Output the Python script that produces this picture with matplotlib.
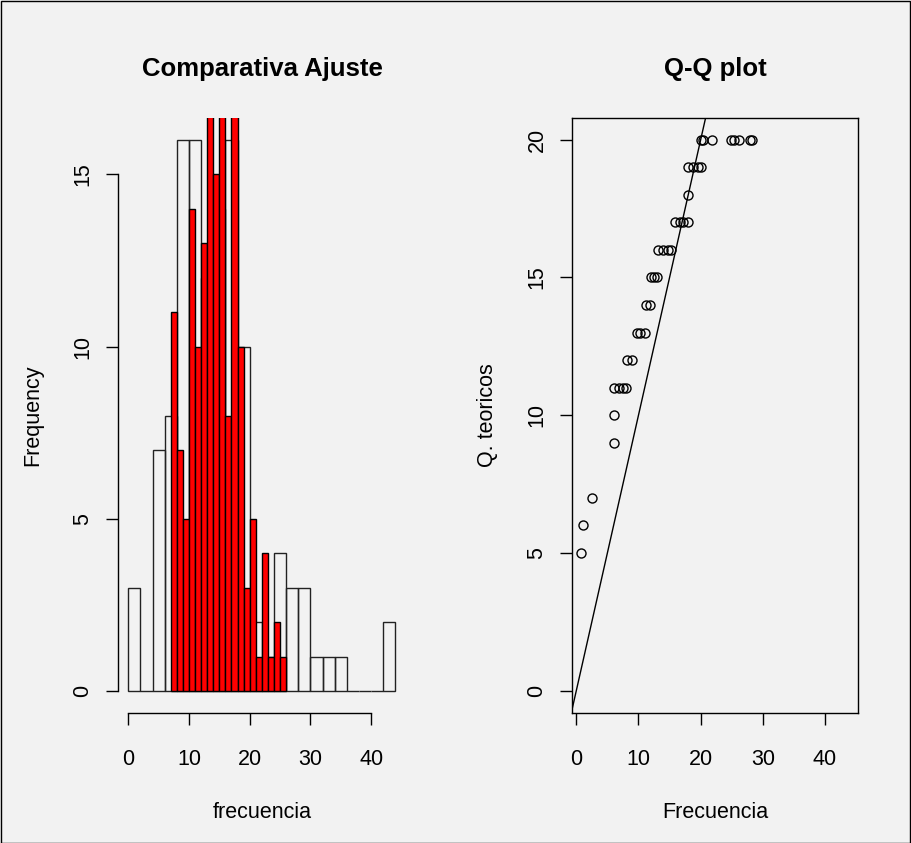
import numpy as np
import matplotlib
matplotlib.use("Agg")
import matplotlib.pyplot as plt
from matplotlib.patches import Rectangle

plt.rcParams['font.family'] = ['Liberation Sans', 'DejaVu Sans']

# ---- data ----
white_edges = list(range(0, 46, 2))
white_counts = [3, 0, 7, 8, 16, 16, 12, 14, 16, 10, 2, 1, 4, 3, 3, 1, 1, 1, 0, 0, 0, 2]
red_edges = list(range(7, 27, 1))
red_counts = [11, 7, 5, 14, 10, 13, 18, 15, 20, 8, 17, 10, 3, 5, 1, 4, 1, 2, 1]

qq_frecuencia = [0.8, 1.1, 2.6, 6.0, 6.0,
                 6.0, 6.8, 7.5, 8.0,
                 8.1, 8.9,
                 9.7, 10.2, 11.0,
                 11.2, 11.8,
                 12.0, 12.5, 13.0,
                 13.2, 14.0, 14.8, 15.2,
                 15.9, 16.7, 17.2, 18.0,
                 18.0,
                 18.0, 18.8, 19.6, 20.0,
                 20.0, 20.4, 21.9, 24.9, 25.4, 26.2, 28.0, 28.3]
qq_teoricos = [5, 6, 7, 9, 10,
               11, 11, 11, 11,
               12, 12,
               13, 13, 13,
               14, 14,
               15, 15, 15,
               16, 16, 16, 16,
               17, 17, 17, 17,
               18,
               19, 19, 19, 19,
               20, 20, 20, 20, 20, 20, 20, 20]

hist_xticks = [0, 10, 20, 30, 40]
hist_yticks = [0, 5, 10, 15]
qq_xticks = [0, 10, 20, 30, 40]
qq_yticks = [0, 5, 10, 15, 20]

W, H = 911, 843
BG = '#F2F2F2'
fig = plt.figure(figsize=(W / 100, H / 100), dpi=100, facecolor=BG)

def px(x0, y0, x1, y1):
    return [x0 / W, 1 - y1 / H, (x1 - x0) / W, (y1 - y0) / H]

FS = 15.5
TICKLEN = 8.6

# ---- left: histogram ----
ax1 = fig.add_axes(px(117.6, 118, 406.1, 713.3))
ax1.set_facecolor(BG)
we = np.array(white_edges)
ax1.bar(we[:-1], white_counts, width=np.diff(we), align='edge',
        facecolor='none', edgecolor='#222222', linewidth=1.0, zorder=2)
re_ = np.array(red_edges)
ax1.bar(re_[:-1], red_counts, width=np.diff(re_), align='edge',
        facecolor='#FF0000', edgecolor='black', linewidth=1.0, zorder=3)
ax1.set_xlim(-1.76, 45.76)
ax1.set_ylim(-0.64, 16.64)
for s in ['top', 'right']:
    ax1.spines[s].set_visible(False)
ax1.spines['left'].set_bounds(0, 15)
ax1.spines['bottom'].set_bounds(0, 40)
ax1.set_xticks(hist_xticks)
ax1.set_yticks(hist_yticks)

# ---- right: QQ plot ----
ax2 = fig.add_axes(px(572, 117.7, 858, 713.3))
ax2.set_facecolor(BG)
ax2.plot(qq_frecuencia, qq_teoricos, linestyle='none', marker='o',
         markersize=6.5, markerfacecolor='none', markeredgecolor='black',
         markeredgewidth=1.0, zorder=3)
ax2.axline((0, 0), slope=1, color='black', linewidth=1.0, zorder=2)
ax2.set_xlim(-0.69, 45.3)
ax2.set_ylim(-0.82, 20.8)
ax2.set_xticks(qq_xticks)
ax2.set_yticks(qq_yticks)

for ax in (ax1, ax2):
    for s in ax.spines.values():
        s.set_linewidth(1.0)
    ax.tick_params(direction='out', length=TICKLEN, width=1.0, labelsize=FS,
                   colors='black')
    ax.tick_params(axis='x', pad=17)
    ax.tick_params(axis='y', pad=9, labelrotation=90)
    for lab in ax.get_yticklabels():
        lab.set_va('center')

# ---- texts ----
def ftext(x, y, s, **kw):
    fig.text(x / W, 1 - y / H, s, ha='center', va='center', **kw)

ftext(262, 69, 'Comparativa Ajuste', fontsize=18.5, fontweight='bold')
ftext(715, 69, 'Q-Q plot', fontsize=18.5, fontweight='bold')
ftext(262, 812, 'frecuencia', fontsize=FS)
ftext(715, 812, 'Frecuencia', fontsize=FS)
ftext(33, 415, 'Frequency', fontsize=FS, rotation=90)
ftext(487, 415, 'Q. teoricos', fontsize=FS, rotation=90)

# outer frame
fig.patches.append(Rectangle((0.5 / W, 0.5 / H), (W - 1.5) / W, (H - 1.5) / H,
                             transform=fig.transFigure, fill=False,
                             edgecolor='black', linewidth=1.0))

fig.savefig('out.png', dpi=100, facecolor=BG)
